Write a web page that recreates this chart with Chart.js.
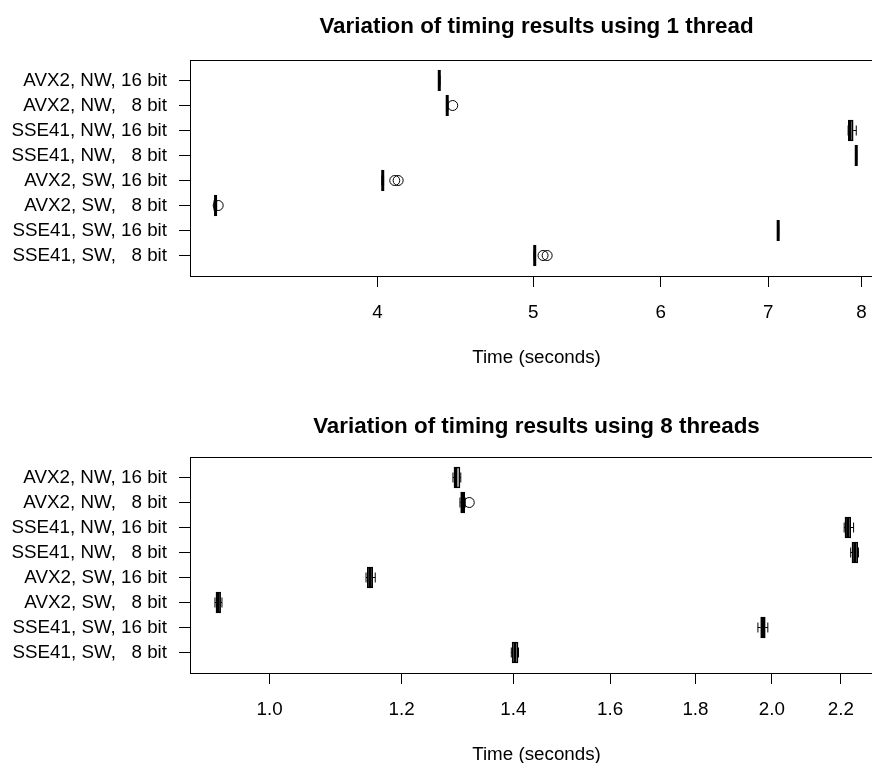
<!DOCTYPE html>
<html>
<head>
<meta charset="utf-8">
<script src="https://cdn.jsdelivr.net/npm/chart.js@4/dist/chart.umd.min.js"></script>
<style>
html, body { margin: 0; padding: 0; overflow: hidden; background: #fff; }
canvas { position: absolute; left: 0; }
#c1 { top: 0; }
#c2 { top: 397px; }
</style>
</head>
<body>
<canvas id="c1" width="883" height="397"></canvas>
<canvas id="c2" width="883" height="397"></canvas>
<script>
// groups, bottom to top (boxplot position 1..8)
var groups = ["SSE41, SW,   8 bit", "SSE41, SW, 16 bit", "AVX2, SW,   8 bit", "AVX2, SW, 16 bit",
              "SSE41, NW,   8 bit", "SSE41, NW, 16 bit", "AVX2, NW,   8 bit", "AVX2, NW, 16 bit"];

// 1 thread, seconds
var oneLow    = [5.005, 7.095, 3.165, 4.025, 7.935, 7.848, 4.415, 4.365];
var oneQ1     = [5.008, 7.097, 3.168, 4.027, 7.938, 7.850, 4.418, 4.368];
var oneMedian = [5.010, 7.100, 3.172, 4.030, 7.940, 7.870, 4.420, 4.370];
var oneQ3     = [5.012, 7.103, 3.175, 4.033, 7.942, 7.905, 4.422, 4.372];
var oneHigh   = [5.015, 7.105, 3.177, 4.035, 7.945, 7.940, 4.425, 4.375];
var oneOut    = [[5.07, 5.10], [], [3.184], [4.10, 4.12], [], [], [4.455], []];
var oneTicks  = [4, 5, 6, 7, 8];
var oneTickLabels = ["4", "5", "6", "7", "8"];

// 8 threads, seconds
var eightLow    = [1.396, 1.962, 0.9274, 1.1424, 2.230, 2.210, 1.3005, 1.288];
var eightQ1     = [1.3975, 1.9695, 0.9287, 1.1444, 2.234, 2.2125, 1.3018, 1.2898];
var eightMedian = [1.403, 1.976, 0.9313, 1.1486, 2.2424, 2.2207, 1.3054, 1.2933];
var eightQ3     = [1.409, 1.982, 0.9347, 1.1529, 2.2516, 2.230, 1.309, 1.3005];
var eightHigh   = [1.410, 1.989, 0.9364, 1.157, 2.254, 2.239, 1.310, 1.302];
var eightOut    = [[], [], [], [], [], [], [1.3173], []];
var eightTicks  = [1.0, 1.2, 1.4, 1.6, 1.8, 2.0, 2.2];
var eightTickLabels = ["1.0", "1.2", "1.4", "1.6", "1.8", "2.0", "2.2"];

Chart.defaults.font.family = "'Liberation Sans', Arial, sans-serif";
Chart.defaults.font.size = 18.8;
Chart.defaults.color = "#000";

var frame = {
  id: "frame",
  afterDatasetsDraw: function(chart) {
    var a = chart.chartArea, ctx = chart.ctx;
    ctx.save();
    ctx.strokeStyle = "#000";
    ctx.lineWidth = 1;
    ctx.strokeRect(Math.round(a.left) + 0.5, Math.round(a.top) + 0.5,
                   Math.round(a.right - a.left), Math.round(a.bottom - a.top));
    ctx.restore();
  }
};

function makeChart(id, title, titleTop, lo, q1, med, q3, hi, out, ticks, tickLabels, xMin, xMax) {
  var boxes = [], medians = [], whiskers = [], staples = [], outliers = [];
  for (var i = 0; i < groups.length; i++) {
    var y = i + 1;
    boxes.push({x: [q1[i], q3[i]], y: y});
    medians.push({x: med[i], y: y});
    whiskers.push({x: lo[i], y: y}, {x: q1[i], y: y}, {x: null, y: null},
                  {x: q3[i], y: y}, {x: hi[i], y: y}, {x: null, y: null});
    staples.push({x: lo[i], y: y}, {x: hi[i], y: y});
    for (var j = 0; j < out[i].length; j++) outliers.push({x: out[i][j], y: y});
  }

  return new Chart(id, {
    type: "bar",
    data: {
      datasets: [
        {type: "line", data: whiskers, borderColor: "#000", borderWidth: 1, borderDash: [4, 3],
         pointRadius: 0, spanGaps: false, fill: false},
        {type: "scatter", data: staples, pointStyle: "line", pointRotation: 90, pointRadius: 5,
         pointBorderWidth: 1, pointBorderColor: "#000"},
        {type: "bar", data: boxes, backgroundColor: "rgba(0,0,0,0)", borderColor: "#000",
         borderWidth: 1, borderSkipped: false, barThickness: 21},
        {type: "scatter", data: medians, pointStyle: "line", pointRotation: 90, pointRadius: 10.5,
         pointBorderWidth: 3, pointBorderColor: "#000"},
        {type: "scatter", data: outliers, pointStyle: "circle", pointRadius: 5,
         pointBorderWidth: 1, pointBorderColor: "#000", pointBackgroundColor: "rgba(0,0,0,0)"}
      ]
    },
    options: {
      indexAxis: "y",
      responsive: false,
      animation: false,
      events: [],
      devicePixelRatio: 1,
      layout: {padding: 0, autoPadding: false},
      plugins: {
        legend: {display: false},
        tooltip: {enabled: false},
        title: {
          display: true, text: title, fullSize: false,
          font: {size: 22.4, weight: "bold"}, color: "#000",
          padding: {top: titleTop, bottom: 60 - titleTop - 22.4 * 1.2}
        }
      },
      scales: {
        x: {
          type: "logarithmic", min: xMin, max: xMax,
          afterBuildTicks: function(s) { s.ticks = ticks.map(function(v) { return {value: v}; }); },
          afterFit: function(s) { s.height = 121; s.paddingLeft = 0; s.paddingRight = 0; },
          ticks: {
            padding: 15, autoSkip: false, maxRotation: 0,
            callback: function(v) { return tickLabels[ticks.indexOf(v)]; }
          },
          grid: {drawOnChartArea: false, drawTicks: true, tickLength: 11, tickColor: "#000"},
          border: {display: false},
          title: {display: true, text: "Time (seconds)", padding: {top: 0, bottom: 28}}
        },
        y: {
          type: "linear", min: 0.18, max: 8.82, offset: false,
          afterBuildTicks: function(s) { s.ticks = groups.map(function(g, k) { return {value: k + 1}; }); },
          afterFit: function(s) { s.width = 190; s.paddingTop = 0; s.paddingBottom = 0; },
          ticks: {
            padding: 12, autoSkip: false,
            callback: function(v) { return groups[v - 1]; }
          },
          grid: {drawOnChartArea: false, drawTicks: true, tickLength: 11, tickColor: "#000", offset: false},
          border: {display: false}
        }
      }
    },
    plugins: [frame]
  });
}

makeChart("c1", "Variation of timing results using 1 thread", 13,
          oneLow, oneQ1, oneMedian, oneQ3, oneHigh, oneOut, oneTicks, oneTickLabels, 3.058, 8.25);
makeChart("c2", "Variation of timing results using 8 threads", 16,
          eightLow, eightQ1, eightMedian, eightQ3, eightHigh, eightOut, eightTicks, eightTickLabels, 0.896, 2.3317);
</script>
</body>
</html>
